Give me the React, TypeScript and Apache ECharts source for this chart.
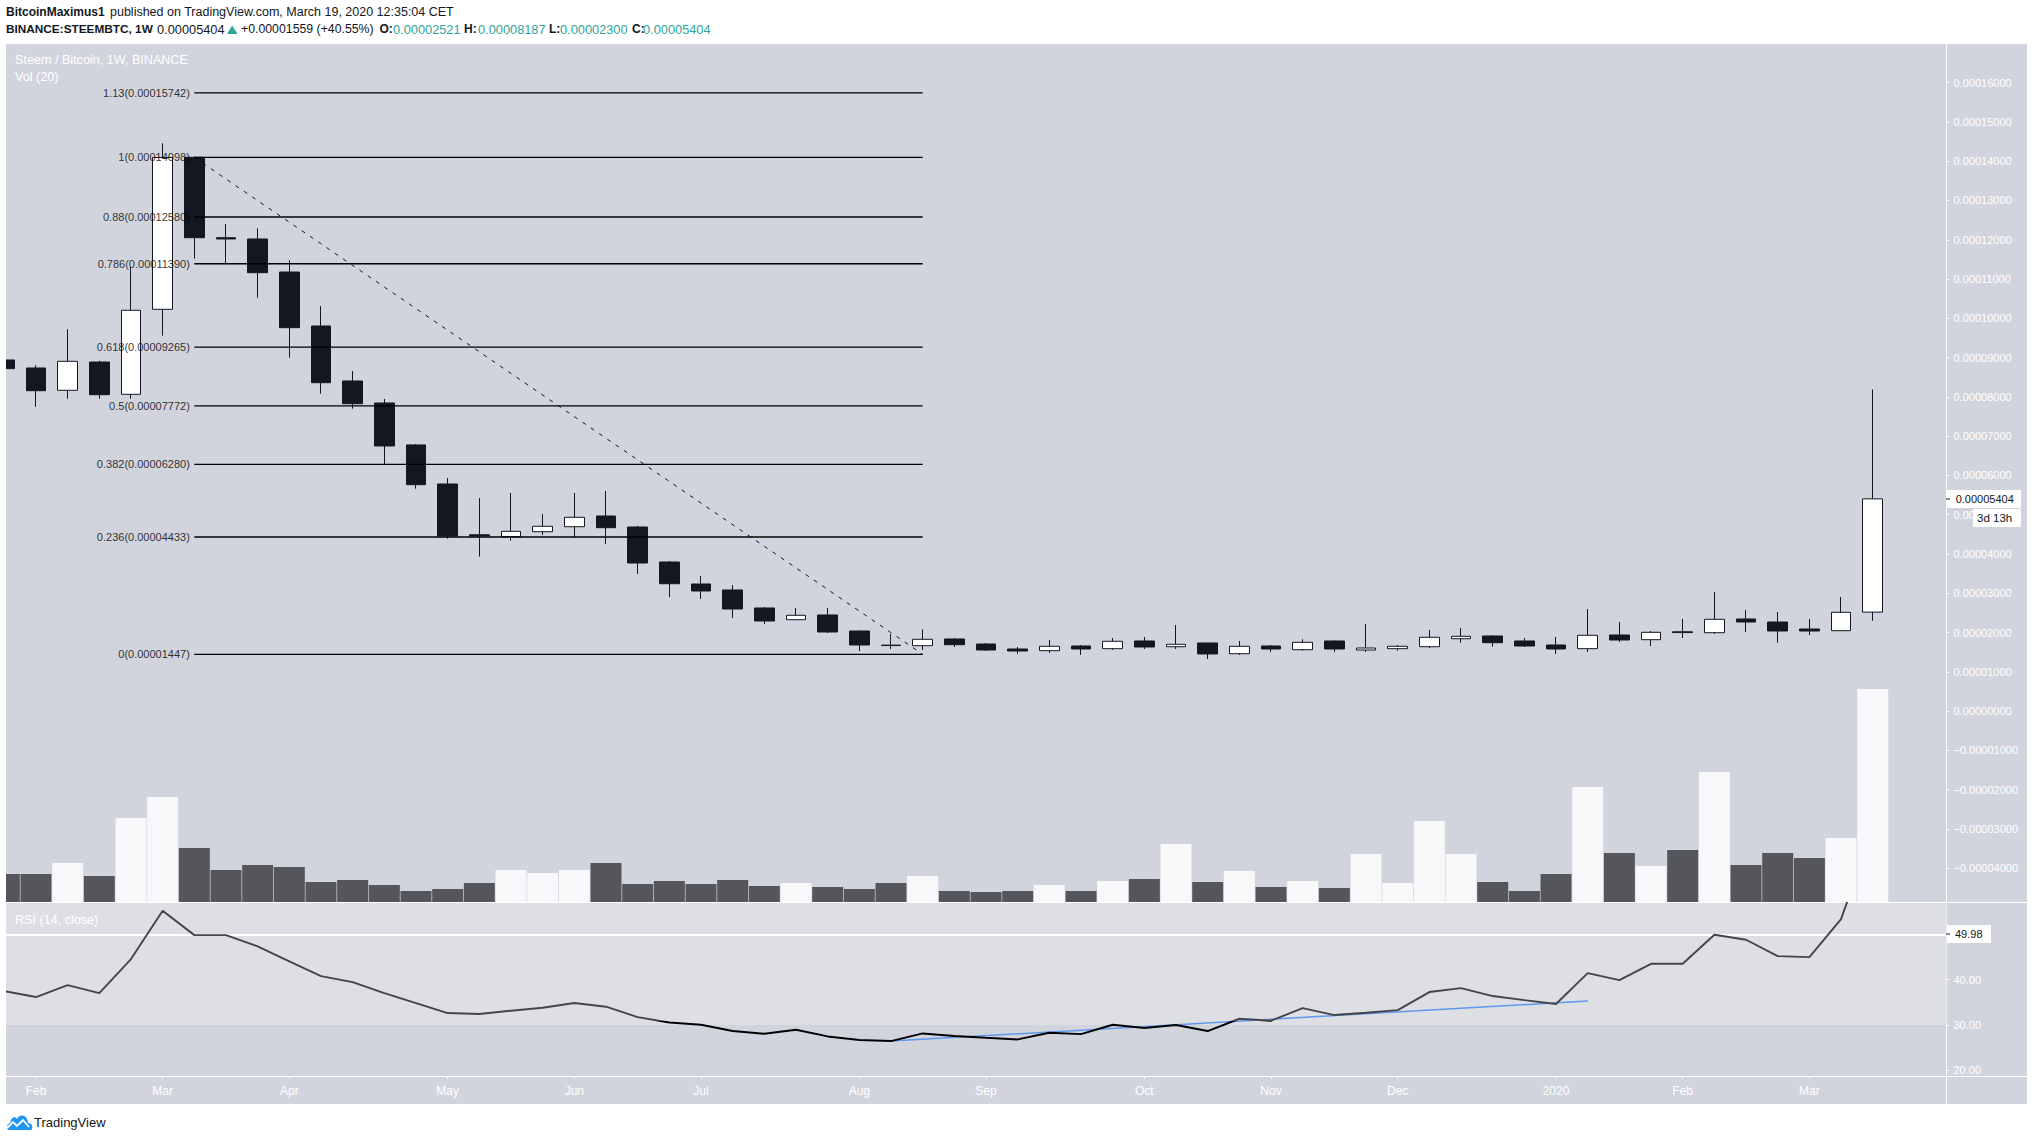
import React, { useEffect, useRef } from "react";
import * as echarts from "echarts";

const PRICE_UNIT = 1e-5;
const weekIndex = [-1,0,1,2,3,4,5,6,7,8,9,10,11,12,13,14,15,16,17,18,19,20,21,22,23,24,25,26,27,28,29,30,31,32,33,34,35,36,37,38,39,40,41,42,43,44,45,46,47,48,49,50,51,52,53,54,55,56,57,58];
const opens = [8.94,8.736,8.168,8.888,8.066,10.23,14.1,12.053,12.02,11.179,9.805,8.405,7.845,6.777,5.783,4.49,4.441,4.568,4.695,4.968,4.688,3.797,3.237,3.084,2.626,2.328,2.448,2.04,1.68,1.666,1.837,1.709,1.582,1.539,1.658,1.59,1.786,1.64,1.735,1.462,1.658,1.564,1.786,1.556,1.59,1.64,1.844,1.913,1.786,1.684,1.59,1.938,1.819,2.02,1.997,2.346,2.269,2.091,2.048,2.521];
const closes = [8.72,8.158,8.906,8.056,10.205,14.095,12.053,12.02,11.162,9.762,8.362,7.827,6.75,5.765,4.459,4.46,4.578,4.706,4.935,4.67,3.771,3.244,3.059,2.6,2.295,2.44,2.015,1.684,1.67,1.829,1.691,1.556,1.531,1.651,1.582,1.778,1.633,1.702,1.455,1.651,1.582,1.752,1.582,1.607,1.651,1.88,1.905,1.742,1.658,1.582,1.931,1.811,2.007,2.0,2.338,2.269,2.04,2.04,2.516,5.404];
const lows = [8.66,7.75,7.954,7.954,7.954,9.558,11.519,11.376,10.525,8.998,8.081,7.7,6.292,5.663,4.39,3.932,4.339,4.484,4.426,4.255,3.491,2.906,2.855,2.371,2.218,2.32,1.989,1.531,1.582,1.556,1.633,1.531,1.455,1.48,1.429,1.556,1.582,1.582,1.327,1.429,1.506,1.539,1.506,1.506,1.539,1.607,1.742,1.64,1.633,1.455,1.506,1.76,1.658,1.862,1.964,2.015,1.742,1.938,2.04,2.3];
const highs = [8.98,8.804,9.721,8.921,11.314,14.457,14.12,12.401,12.292,11.478,10.314,8.659,7.947,6.8,5.935,5.426,5.553,5.019,5.553,5.604,4.72,3.822,3.44,3.211,2.651,2.626,2.626,2.05,1.964,2.083,1.862,1.735,1.633,1.811,1.684,1.862,1.887,2.193,1.74,1.786,1.684,1.829,1.8,2.218,1.684,2.066,2.117,1.93,1.862,1.887,2.6,2.269,2.04,2.346,3.033,2.575,2.524,2.346,2.906,8.187];
const volumes = [28,28,39,26,84,105,54,32,37,35,20,22,17,11,13,19,32,29,32,39,18,21,18,22,16,19,15,13,19,26,11,10,11,17,11,21,23,58,20,31,15,21,14,48,19,81,48,20,11,28,115,49,36,52,130,37,49,44,64,213];
const rsi = [37.49,36.17,38.81,37.05,44.54,55.18,49.82,49.82,47.33,44.02,40.79,39.47,37.05,34.85,32.64,32.42,33.16,33.82,34.85,34.04,31.76,30.57,30.07,28.68,28.08,28.96,27.49,26.69,26.47,28.15,27.58,27.2,26.83,28.3,28.0,30.07,29.34,30.0,28.68,31.39,30.95,33.74,32.2,32.71,33.3,37.27,38.15,36.39,35.5,34.63,41.45,39.91,43.5,43.5,49.9,48.8,45.2,44.98,53.35,73];
const monthTicks = [0,4,8,13,17,21,26,30,35,39,43,48,52,56];
const monthLabels = ["Feb","Mar","Apr","May","Jun","Jul","Aug","Sep","Oct","Nov","Dec","2020","Feb","Mar"];
const priceTicks = [16,15,14,13,12,11,10,9,8,7,6,5,4,3,2,1,0,-1,-2,-3,-4];
const rsiTicks = [20,30,40];
const fibRatios = ["1.13","1","0.88","0.786","0.618","0.5","0.382","0.236","0"];
const fibPrices = [15.742,14.098,12.58,11.39,9.265,7.772,6.28,4.433,1.447];
const fibStart = 5;
const fibEnd = 28;
const trendRsi = [[27,26.47],[49,35.3]];
const rsiLast = 49.98;

const FONT = "Liberation Sans";
const DARK = "#131722";
const TEAL = "#2ea69a";
const PANEL = "#d1d4dd";

echarts.graphic.registerShape("tvcloud", echarts.graphic.extendPath("M3 17 C0 17 0 11 4 10 C5 4 9 3 11 6 C12 2 19 1 21 6 C22 8 22 9 22 10 C27 10 28 17 24 17 Z", {}));

function t(x: number, y: number, text: string, fill: string, extra: any = {}) {
  return { type: "text", x, y, z: 60, silent: true, style: { text, fill, font: `${extra.weight || "normal"} ${extra.size || 12.5}px "${FONT}"`, verticalAlign: "middle", align: extra.align || "left" } };
}
function r(x: number, y: number, width: number, height: number, fill: string, z = 55) {
  return { type: "rect", z, silent: true, shape: { x, y, width, height }, style: { fill } };
}

export default function App() {
  const ref = useRef<HTMLDivElement>(null);
  useEffect(() => {
    const chart = echarts.init(ref.current!, null, { renderer: "svg" });
    const xBase = { type: "value", min: -0.947, max: 60.33, splitLine: { show: false }, axisLine: { show: false, onZero: false }, axisTick: { show: false }, axisLabel: { show: false } };
    const fmtPrice = (v: number) => {
      const s = Math.abs(v).toFixed(8);
      return v < -1e-9 ? "\u2212" + s : s;
    };
    const option: any = {
      animation: false,
      backgroundColor: "#ffffff",
      grid: [
        { left: 6, top: 44, width: 1940.5, height: 858 },
        { left: 6, top: 689, width: 1940.5, height: 213 },
        { left: 6, top: 903, width: 1940.5, height: 173 },
      ],
      xAxis: [
        { ...xBase, gridIndex: 0 },
        { ...xBase, gridIndex: 1 },
        {
          ...xBase,
          gridIndex: 2,
          position: "bottom",
          axisLine: { show: true, onZero: false, lineStyle: { color: "#ffffff", width: 1 } },
          axisTick: { show: true, length: 3, lineStyle: { color: "#ffffff" }, customValues: monthTicks },
          axisLabel: {
            show: true,
            customValues: monthTicks,
            color: "#ffffff",
            fontFamily: FONT,
            fontSize: 12,
            margin: 9,
            formatter: (v: number) => monthLabels[monthTicks.indexOf(Math.round(v))] ?? "",
          },
        },
      ],
      yAxis: [
        {
          type: "value",
          gridIndex: 0,
          position: "right",
          min: -4.859 * PRICE_UNIT,
          max: 16.984 * PRICE_UNIT,
          splitLine: { show: false },
          axisLine: { show: true, onZero: false, lineStyle: { color: "#ffffff", width: 1 } },
          axisTick: { show: true, length: 3, lineStyle: { color: "#ffffff" }, customValues: priceTicks.map((p) => p * PRICE_UNIT) },
          axisLabel: {
            customValues: priceTicks.map((p) => p * PRICE_UNIT),
            color: "#ffffff",
            fontFamily: FONT,
            fontSize: 11,
            margin: 7,
            formatter: fmtPrice,
          },
        },
        { type: "value", gridIndex: 1, min: 0, max: 213, show: false, axisLine: { onZero: false } },
        {
          type: "value",
          gridIndex: 2,
          position: "right",
          min: 18.77,
          max: 56.9,
          splitLine: { show: false },
          axisLine: { show: true, onZero: false, lineStyle: { color: "#ffffff", width: 1 } },
          axisTick: { show: true, length: 3, lineStyle: { color: "#ffffff" }, customValues: rsiTicks },
          axisLabel: {
            customValues: rsiTicks,
            color: "#ffffff",
            fontFamily: FONT,
            fontSize: 11,
            margin: 7,
            formatter: (v: number) => v.toFixed(2),
          },
        },
      ],
      series: [
        {
          type: "line",
          name: "RSI",
          xAxisIndex: 2,
          yAxisIndex: 2,
          z: 4,
          symbol: "none",
          lineStyle: {
            width: 1.9,
            color: {
              type: "linear",
              global: true,
              x: 0,
              y: 903,
              x2: 0,
              y2: 1076,
              colorStops: [
                { offset: 0, color: "#454545" },
                { offset: 0.68, color: "#454545" },
                { offset: 0.681, color: "#000000" },
                { offset: 1, color: "#000000" },
              ],
            },
          },
          data: weekIndex.map((x, i) => [x, rsi[i]]),
          markArea: { silent: true, z: 1, itemStyle: { color: "#dedfe4" }, data: [[{ yAxis: 30 }, { yAxis: 56.9 }]] },
          markLine: { silent: true, z: 1, symbol: "none", label: { show: false }, lineStyle: { color: "#ffffff", width: 2, type: "solid" }, data: [{ yAxis: rsiLast }] },
        },
        {
          type: "line",
          name: "RSI trend",
          xAxisIndex: 2,
          yAxisIndex: 2,
          z: 3,
          symbol: "none",
          lineStyle: { width: 1.5, color: "#5f97ee" },
          data: trendRsi,
        },
        {
          type: "bar",
          name: "Vol",
          xAxisIndex: 1,
          yAxisIndex: 1,
          z: 2,
          barWidth: 31,
          data: weekIndex.map((x, i) => ({
            value: [x, volumes[i]],
            itemStyle: { color: closes[i] >= opens[i] ? "#f8f8fa" : "#55565b" },
          })),
        },
        {
          type: "candlestick",
          name: "STEEMBTC",
          xAxisIndex: 0,
          yAxisIndex: 0,
          z: 3,
          barWidth: 20,
          encode: { x: 0, y: [1, 2, 3, 4] },
          itemStyle: { color: "#ffffff", color0: DARK, borderColor: DARK, borderColor0: DARK, borderWidth: 1 },
          data: weekIndex.map((x, i) => [x, opens[i] * PRICE_UNIT, closes[i] * PRICE_UNIT, lows[i] * PRICE_UNIT, highs[i] * PRICE_UNIT]),
        },
        ...fibPrices.map((p) => ({
          type: "line",
          name: "fib",
          xAxisIndex: 0,
          yAxisIndex: 0,
          z: 5,
          symbol: "none",
          lineStyle: { width: 1.3, color: "#000000" },
          data: [[fibStart, p * PRICE_UNIT], [fibEnd, p * PRICE_UNIT]],
        })),
        {
          type: "line",
          name: "fib trend",
          xAxisIndex: 0,
          yAxisIndex: 0,
          z: 5,
          symbol: "none",
          lineStyle: { width: 1, color: DARK, type: [4, 6] },
          data: [[fibStart, fibPrices[1] * PRICE_UNIT], [fibEnd, fibPrices[8] * PRICE_UNIT]],
        },
        {
          type: "scatter",
          name: "fib labels",
          xAxisIndex: 0,
          yAxisIndex: 0,
          z: 6,
          symbolSize: 1,
          itemStyle: { color: "transparent" },
          label: {
            show: true,
            position: "left",
            distance: 4,
            color: "#000000",
            fontFamily: FONT,
            fontSize: 11,
            formatter: (d: any) => `${fibRatios[d.dataIndex]}(${(fibPrices[d.dataIndex] * PRICE_UNIT).toFixed(8)})`,
          },
          data: fibPrices.map((p) => [fibStart, p * PRICE_UNIT]),
        },
      ],
      graphic: [
        { elements: [
          r(6, 44, 2021, 1060, PANEL, -5),
          r(0, 40, 6, 1070, "#ffffff", 50),
          { type: "line", z: -1, silent: true, shape: { x1: 1946, y1: 902.5, x2: 2027, y2: 902.5 }, style: { stroke: "#ffffff", lineWidth: 1 } },
          { type: "line", z: 1, silent: true, shape: { x1: 6, y1: 902.5, x2: 1946, y2: 902.5 }, style: { stroke: "#ffffff", lineWidth: 1 } },
          { type: "line", z: -1, silent: true, shape: { x1: 1946, y1: 1076.5, x2: 2027, y2: 1076.5 }, style: { stroke: "#ffffff", lineWidth: 1 } },
          { type: "line", z: -1, silent: true, shape: { x1: 1946.5, y1: 44, x2: 1946.5, y2: 1104 }, style: { stroke: "#ffffff", lineWidth: 1 } },
          t(6, 12, "BitcoinMaximus1", DARK, { weight: "bold", size: 12 }),
          t(110, 12, "published on TradingView.com, March 19, 2020 12:35:04 CET", DARK),
          t(6, 29, "BINANCE:STEEMBTC, 1W", DARK, { weight: "bold", size: 11.8 }),
          t(157, 29, "0.00005404", DARK, { size: 12.8 }),
          { type: "polygon", z: 60, silent: true, shape: { points: [[227, 34], [237.5, 34], [232.2, 25.5]] }, style: { fill: TEAL } },
          t(241, 29, "+0.00001559 (+40.55%)", DARK, { size: 12.3 }),
          t(379.5, 29, "O:", DARK, { weight: "bold", size: 12 }),
          t(393, 29, "0.00002521", TEAL, { size: 12.8 }),
          t(464, 29, "H:", DARK, { weight: "bold", size: 12 }),
          t(478, 29, "0.00008187", TEAL, { size: 12.8 }),
          t(549, 29, "L:", DARK, { weight: "bold", size: 12 }),
          t(560, 29, "0.00002300", TEAL, { size: 12.8 }),
          t(632, 29, "C:", DARK, { weight: "bold", size: 12 }),
          t(643, 29, "0.00005404", TEAL, { size: 12.8 }),
          t(15, 60, "Steem / Bitcoin, 1W, BINANCE", "#ffffff", { size: 12.6 }),
          t(15, 77, "Vol (20)", "#ffffff", { size: 12.6 }),
          t(15, 920, "RSI (14, close)", "#ffffff", { size: 12.6 }),
          r(1947, 490, 74, 18, "#ffffff"),
          { type: "line", z: 60, silent: true, shape: { x1: 1946, y1: 499, x2: 1950, y2: 499 }, style: { stroke: DARK, lineWidth: 1 } },
          t(1955.7, 499, "0.00005404", DARK, { size: 11 }),
          r(1973, 509, 48, 18, "#ffffff"),
          t(1977, 518, "3d 13h", DARK, { size: 11.5 }),
          r(1947, 925, 44, 18, "#ffffff"),
          { type: "line", z: 60, silent: true, shape: { x1: 1946, y1: 934, x2: 1950, y2: 934 }, style: { stroke: DARK, lineWidth: 1 } },
          t(1955, 934, "49.98", DARK, { size: 11 }),
          { type: "tvcloud", x: 6, y: 1113, scaleX: 1, scaleY: 1, z: 60, silent: true, style: { fill: "#2196f3" } },
          { type: "polyline", z: 61, silent: true, shape: { points: [[7, 1128], [13, 1122], [17, 1126], [23, 1120], [29, 1127]] }, style: { stroke: "#ffffff", lineWidth: 1.8, fill: "none" } },
          t(34, 1122, "TradingView", DARK, { size: 13 }),
        ] },
      ],
    };
    chart.setOption(option);
    return () => chart.dispose();
  }, []);
  return <div ref={ref} style={{ position: "fixed", left: 0, top: 0, width: 2034, height: 1141 }} />;
}
